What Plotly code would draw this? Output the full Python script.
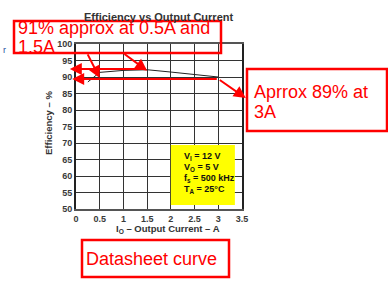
import plotly.graph_objects as go

# Data
current_a = [0.25, 0.5, 1.0, 1.5, 2.0, 2.5, 3.0]
efficiency_pct = [88.5, 91.4, 92.0, 92.2, 91.5, 90.8, 90.0]

x_ticks = [0, 0.5, 1, 1.5, 2, 2.5, 3, 3.5]
x_tick_labels = ["0", "0.5", "1", "1.5", "2", "2.5", "3", "3.5"]
y_ticks = [50, 55, 60, 65, 70, 75, 80, 85, 90, 95, 100]

cond_lines = ["V<sub>I</sub> = 12 V", "V<sub>O</sub> = 5 V",
              "f<sub>s</sub> = 500 kHz", "T<sub>A</sub> = 25°C"]

note1_lines = ["91% approx at 0.5A and", "1.5A"]
note2_lines = ["Aprrox 89% at", "3A"]
note3 = "Datasheet curve"

W, H = 388, 301
L, R, T, B = 76, 146, 44, 92
pw, ph = W - L - R, H - T - B


def px(xp):
    return (xp - L) / pw


def py(yp):
    return (H - B - yp) / ph


fig = go.Figure()
fig.add_trace(go.Scatter(x=current_a, y=efficiency_pct, mode="lines",
                         line=dict(color="#222", width=1), hoverinfo="skip",
                         showlegend=False))

axis_font = dict(family="Liberation Sans, Arial", size=9, color="#3a3a3a", weight="bold")
fig.update_xaxes(range=[0, 3.5], tickvals=x_ticks, ticktext=x_tick_labels,
                 showgrid=True, gridcolor="#333", gridwidth=1.3,
                 showline=True, linecolor="#555", linewidth=2, mirror=True,
                 ticks="", tickfont=axis_font, zeroline=False)
fig.update_yaxes(range=[50, 100], tickvals=y_ticks,
                 showgrid=True, gridcolor="#333", gridwidth=1.3,
                 showline=True, linecolor="#222", linewidth=2, mirror=True,
                 ticks="", tickfont=axis_font, zeroline=False)

red = "#ff0000"
red_font = dict(family="Liberation Sans, Arial", size=18, color=red)
shapes = []
# Yellow conditions box
shapes.append(dict(type="rect", xref="x", yref="y", x0=2.0, x1=3.35, y0=51.2, y1=69.4,
                   fillcolor="#ffff00", line=dict(width=0), layer="above"))
# red rectangles (paper coords from pixel positions)
for (x0, y0, x1, y1) in [(14, 21, 221, 53), (247, 69, 387, 131), (82, 240, 229, 277)]:
    shapes.append(dict(type="rect", xref="paper", yref="paper",
                       x0=px(x0), x1=px(x1), y0=py(y1), y1=py(y0),
                       line=dict(color=red, width=2.5), fillcolor="rgba(0,0,0,0)",
                       layer="above"))

annotations = []


def txt(text, xp, yp, font, xanchor="center", angle=0):
    annotations.append(dict(text=text, xref="paper", yref="paper",
                            x=px(xp), y=py(yp), xanchor=xanchor, yanchor="middle",
                            showarrow=False, textangle=angle, font=font))


dark = dict(family="Liberation Sans, Arial", size=11, color="#333")
# Title
txt("<b>Efficiency vs Output Current</b>", 158, 17, dark)
# Axis titles
txt("<b>I<sub>O</sub> – Output Current – A</b>", 168, 229,
    dict(family="Liberation Sans, Arial", size=9.5, color="#333"))
txt("<b>Efficiency – %</b>", 48, 123,
    dict(family="Liberation Sans, Arial", size=9.5, color="#333"), angle=-90)
# Conditions text
for i, t in enumerate(cond_lines):
    txt("<b>" + t + "</b>", 182, 156 + i * 11.3,
        dict(family="Liberation Sans, Arial", size=9, color="#111"), xanchor="left")
# Red texts
for i, t in enumerate(note1_lines):
    txt(t, 16, 28 + i * 18.5, red_font, xanchor="left")
for i, t in enumerate(note2_lines):
    txt(t, 252, 92 + i * 20, red_font, xanchor="left")
txt(note3, 151, 259, red_font)
# stray blue letter
txt("r", 1, 50, dict(family="Liberation Sans, Arial", size=9, color="#1f4f9f"), xanchor="left")

# Red arrows (head x,y ; tail ax,ay) in data coords
arrows = [
    (current_a[1], 89.7, 0.23, 97.3),
    (current_a[3], efficiency_pct[3] - 0.3, 0.99, 97.3),
    (-0.13, 92.4, current_a[3], 92.4),
    (-0.08, 89.4, current_a[-1], 89.4),
    (3.58, 83.6, current_a[-1], 89.4),
]
for (x, y, ax, ay) in arrows:
    annotations.append(dict(x=x, y=y, ax=ax, ay=ay, xref="x", yref="y",
                            axref="x", ayref="y", text="", showarrow=True,
                            arrowhead=2, arrowsize=1.2, arrowwidth=2, arrowcolor=red))

fig.update_layout(width=W, height=H, margin=dict(l=L, r=R, t=T, b=B),
                  paper_bgcolor="white", plot_bgcolor="white",
                  shapes=shapes, annotations=annotations, showlegend=False)

fig.write_html("out.html")
